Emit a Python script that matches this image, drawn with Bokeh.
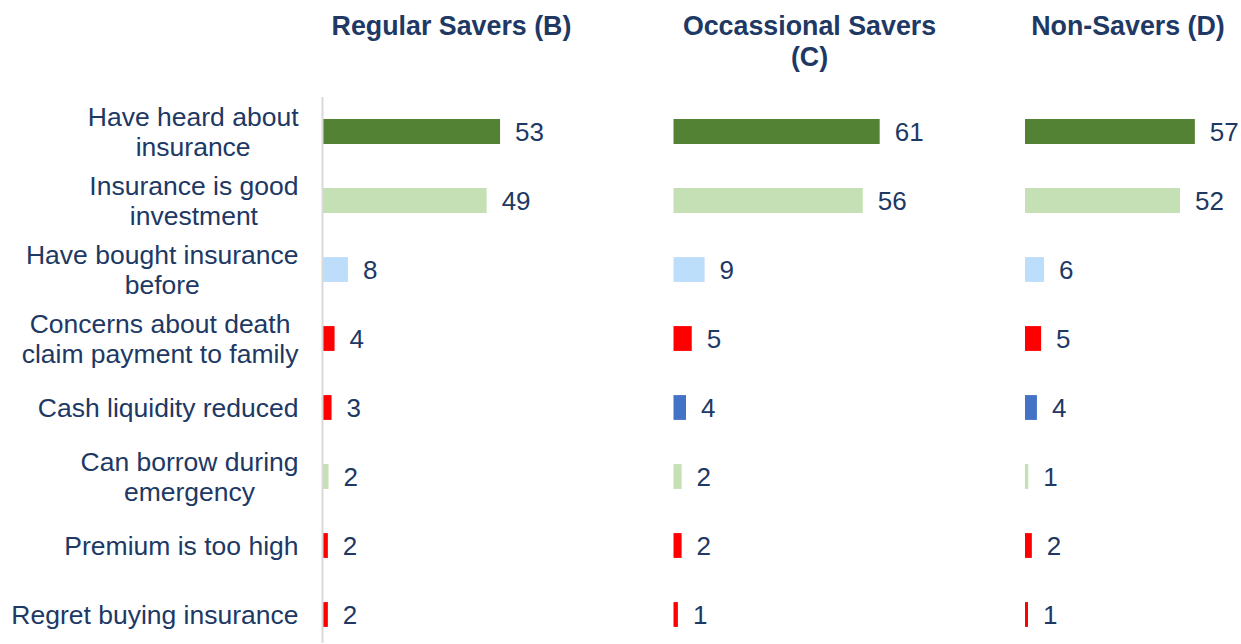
from bokeh.plotting import figure
from bokeh.models import Range1d, ColumnDataSource
from bokeh.embed import file_html
from bokeh.resources import INLINE
from bokeh.core.properties import value

# ---------------- data ----------------
categories = [
    "Have heard about\ninsurance",
    "Insurance is good\ninvestment",
    "Have bought insurance\nbefore",
    "Concerns about death\nclaim payment to family",
    "Cash liquidity reduced",
    "Can borrow during\nemergency",
    "Premium is too high",
    "Regret buying insurance",
]
panel_titles = ["Regular Savers (B)", "Occassional Savers\n(C)", "Non-Savers (D)"]
regular_savers = [53, 49, 7.6, 3.6, 2.7, 1.8, 1.6, 1.6]
occasional_savers = [61, 56, 9.2, 5.4, 3.7, 2.4, 2.4, 1.3]
non_savers = [57, 52, 6.4, 5.4, 4.0, 1.1, 2.3, 1.0]

DKGREEN = "#548235"
LTGREEN = "#C5E0B4"
LTBLUE = "#BDDEFB"
RED = "#FF0000"
BLUE = "#4472C4"
colors_regular = [DKGREEN, LTGREEN, LTBLUE, RED, RED, LTGREEN, RED, RED]
colors_occasional = [DKGREEN, LTGREEN, LTBLUE, RED, BLUE, LTGREEN, RED, RED]
colors_non = [DKGREEN, LTGREEN, LTBLUE, RED, BLUE, LTGREEN, RED, RED]

series = [regular_savers, occasional_savers, non_savers]
series_colors = [colors_regular, colors_occasional, colors_non]

# ---------------- layout ----------------
W, H = 1240, 643
ROW0, ROW = 131.0, 69.0                 # pixel centre of first row, row pitch
panel_origin = [322.0, 673.0, 1024.5]   # pixel of zero value in each panel
panel_scale = [3.35, 3.38, 2.98]        # pixels per unit
title_x = [451.0, 809.0, 1127.5]
label_right = 298.0
FONT = "Liberation Sans"
TXT = "#203864"
FS_VAL = 26
FS_CAT = 26.5

# Arial / Liberation Sans advance widths (per 1000 em)
AW = {' ': 278, 'a': 556, 'b': 556, 'c': 500, 'd': 556, 'e': 556, 'f': 278, 'g': 556,
      'h': 556, 'i': 222, 'j': 222, 'k': 500, 'l': 222, 'm': 833, 'n': 556, 'o': 556,
      'p': 556, 'q': 556, 'r': 333, 's': 500, 't': 278, 'u': 556, 'v': 500, 'w': 722,
      'x': 500, 'y': 500, 'z': 500, 'A': 667, 'C': 722, 'H': 722, 'I': 278, 'P': 667,
      'R': 722}


def text_width(s, size):
    return max(sum(AW.get(ch, 556) for ch in line) for line in s.split("\n")) * size / 1000.0


n = len(categories)
p = figure(width=W, height=H, output_backend="svg", toolbar_location=None,
           x_range=Range1d(0, W),
           y_range=Range1d((H - ROW0) / ROW, -ROW0 / ROW),
           min_border=0, outline_line_color=None)
p.axis.visible = False
p.grid.visible = False
p.background_fill_color = "white"
p.border_fill_color = "white"

for k in range(3):
    name = f"panel{k}"
    o, s = panel_origin[k], panel_scale[k]
    p.extra_x_ranges[name] = Range1d(-o / s, (W - o) / s)
    vals = series[k]
    src = ColumnDataSource(dict(
        y=list(range(n)), v=vals, c=series_colors[k],
        lbl=[str(int(v + 0.5)) for v in vals],
    ))
    p.hbar(y="y", left=0, right="v", height=0.36, fill_color="c", line_color=None,
           source=src, x_range_name=name)
    p.text(x="v", y="y", text="lbl", source=src, x_range_name=name,
           x_offset=15, text_align="left", text_baseline="middle",
           text_font=value(FONT), text_font_size=f"{FS_VAL}px", text_color=TXT)
    if k == 0:
        p.segment(x0=[0], x1=[0], y0=[-0.5], y1=[n - 0.5], x_range_name=name,
                  line_color="#D9D9D9", line_width=2)

# category labels (block right-aligned, lines centred)
cat_src = ColumnDataSource(dict(
    x=[label_right - text_width(c, FS_CAT) / 2 for c in categories],
    y=list(range(n)), t=categories,
))
p.text(x="x", y="y", text="t", source=cat_src, text_align="center",
       text_baseline="middle", text_font=value(FONT), text_font_size=f"{FS_CAT}px",
       text_color=TXT, text_line_height=1.0)

# panel titles
p.text(x=title_x, y=[-1.75] * 3, text=panel_titles, text_align="center",
       text_baseline="top", text_font=value(FONT), text_font_size="26.8px",
       text_font_style="bold", text_color=TXT, text_line_height=1.03)

open("out.html", "w").write(file_html(p, INLINE))
